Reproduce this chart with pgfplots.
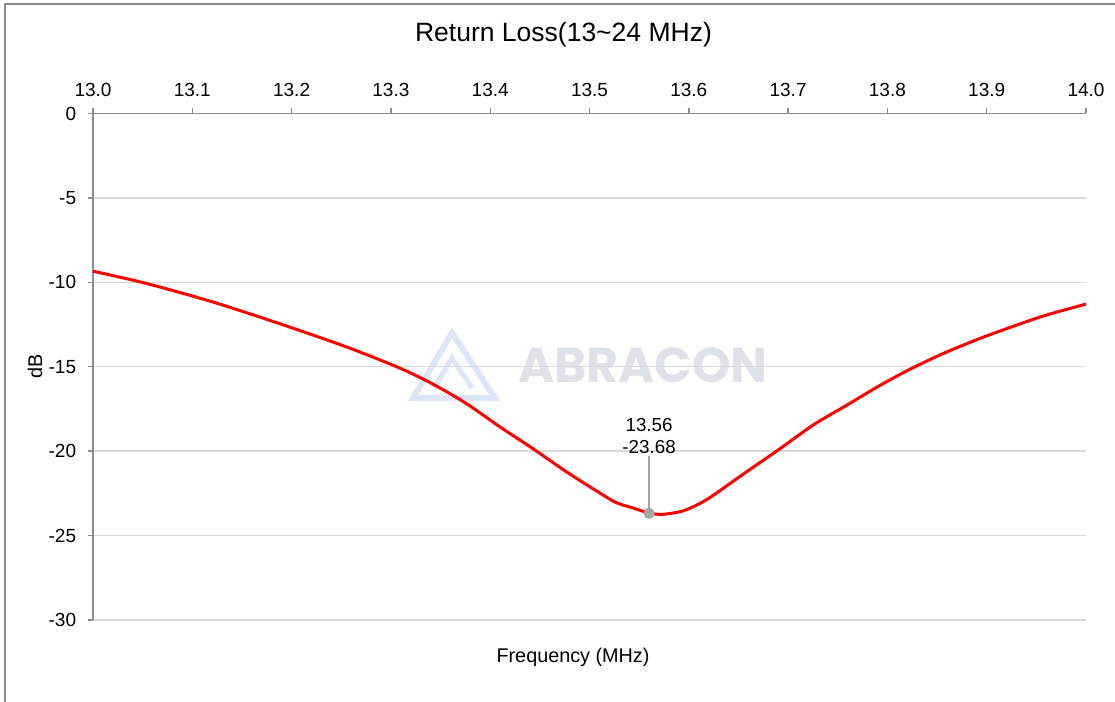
\documentclass[border=0pt]{standalone}
\usepackage{fontspec}
\setmainfont{Liberation Sans}
\newfontfamily\wmfont{Poppins}
\usepackage{pgfplots}
\pgfplotsset{compat=1.18}
\definecolor{gridc}{HTML}{D9D9D9}
\definecolor{axc}{HTML}{8C8C8C}
\definecolor{markc}{HTML}{A5A5A5}
\definecolor{wmtext}{HTML}{DFE2E9}
\definecolor{wmlogo}{HTML}{DCE6F7}
\begin{document}
\begin{tikzpicture}
\path[use as bounding box] (0,0) rectangle (557.5pt,351pt);
\draw[axc, line width=0.7pt] (2.5pt,0) -- (2.5pt,349pt) -- (557.5pt,349pt);
% watermark
\draw[wmlogo, line width=3pt, line join=miter] (206.5pt,152pt) -- (226pt,184.5pt) -- (247.5pt,152pt) -- cycle;
\draw[wmlogo, line width=2.5pt, line join=miter] (217pt,157pt) -- (226pt,172pt) -- (236pt,157pt);
\node[wmtext, font=\wmfont\bfseries\fontsize{24.5}{26}\selectfont, inner sep=0pt] at (321.5pt,168.25pt) {ABRACON};
\begin{axis}[
  at={(46.5pt,41pt)}, anchor=south west, scale only axis,
  width=496.5pt, height=253.25pt,
  xmin=13, xmax=14, ymin=-30, ymax=0,
  axis x line*=top, axis y line*=left,
  axis line style={axc, line width=0.7pt},
  xtick={13,13.1,13.2,13.3,13.4,13.5,13.6,13.7,13.8,13.9,14},
  xticklabels={13.0,13.1,13.2,13.3,13.4,13.5,13.6,13.7,13.8,13.9,14.0},
  ytick={0,-5,-10,-15,-20,-25,-30},
  ymajorgrids, grid style={gridc, line width=0.7pt},
  tick align=outside, major tick length=2.5pt,
  tick style={axc, line width=0.7pt},
  ticklabel style={font=\fontsize{9.5}{11}\selectfont},
  /pgf/number format/assume math mode=true,
  yticklabel style={xshift=-2.4pt},
  xticklabel style={yshift=2.5pt},
  clip=false,
]
\addplot[red, line width=1.5pt, smooth] coordinates {
(13.000,-9.34) (13.054,-10.07) (13.121,-11.17) (13.188,-12.45) (13.255,-13.82)
(13.309,-15.08) (13.343,-16.05) (13.376,-17.18) (13.410,-18.57) (13.443,-19.85)
(13.477,-21.23) (13.511,-22.50) (13.527,-23.05) (13.544,-23.37) (13.560,-23.66)
(13.574,-23.74) (13.594,-23.54) (13.611,-23.10) (13.625,-22.60) (13.658,-21.23)
(13.692,-19.85) (13.725,-18.46) (13.759,-17.28) (13.793,-16.09) (13.826,-15.05)
(13.860,-14.12) (13.893,-13.33) (13.927,-12.60) (13.960,-11.94) (14.000,-11.29)
};
\draw[markc, line width=0.7pt] (axis cs:13.56,-23.68) -- (axis cs:13.56,-20.3);
\addplot[only marks, mark=*, mark size=2.6pt, draw=markc, fill=markc] coordinates {(13.56,-23.68)};
\node[anchor=south, align=center, inner sep=1pt, font=\fontsize{9.4}{11}\selectfont] at (axis cs:13.56,-20.3) {13.56\\-23.68};
\node[font=\fontsize{9.9}{12}\selectfont] at (axis description cs:0.4834,-0.073) {Frequency (MHz)};
\node[rotate=90, font=\fontsize{9.9}{12}\selectfont] at (axis description cs:-0.0584,0.5) {dB};
\end{axis}
\node[font=\fontsize{13.25}{15}\selectfont] at (281.75pt,333.5pt) {Return Loss(13\textasciitilde24 MHz)};
\end{tikzpicture}
\end{document}
